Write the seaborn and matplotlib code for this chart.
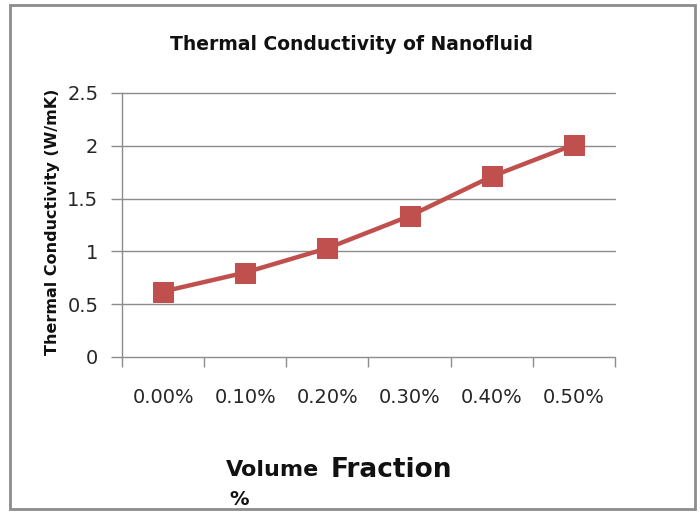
import matplotlib
matplotlib.use("Agg")
import matplotlib.pyplot as plt
import matplotlib.patches as patches
import seaborn as sns
import pandas as pd

# data
fractions = ["0.00%", "0.10%", "0.20%", "0.30%", "0.40%", "0.50%"]
conductivity = [0.62, 0.80, 1.03, 1.335, 1.71, 2.01]
y_ticks = [0, 0.5, 1, 1.5, 2, 2.5]
y_tick_labels = ["0", "0.5", "1", "1.5", "2", "2.5"]

frame = pd.DataFrame({"fraction": fractions, "k": conductivity})

sns.set_style("white")
plt.rcParams["font.family"] = ["DejaVu Sans"]

fig = plt.figure(figsize=(7, 5.13), dpi=100)
ax = fig.add_axes([122 / 700, 1 - 357 / 513, (615 - 122) / 700, (357 - 93) / 513])

for y in y_ticks:
    ax.axhline(y, color="#8c8c8c", linewidth=1, zorder=0, clip_on=False)

sns.lineplot(data=frame, x="fraction", y="k", ax=ax, color="#C0504D",
             linewidth=3.2, marker="s", markersize=15, markeredgecolor="#C0504D",
             zorder=3)

ax.set_xlim(-0.5, 5.5)
ax.set_ylim(0, 2.5)
ax.set_yticks(y_ticks)
ax.set_yticklabels(y_tick_labels, fontsize=14, color="#262626")
ax.set_xticks(range(len(fractions)))
ax.set_xticklabels(fractions, fontsize=14, color="#262626")
ax.set_xticks([i - 0.5 for i in range(len(fractions) + 1)], minor=True)
ax.tick_params(axis="x", which="major", bottom=False, length=0, pad=22)
ax.tick_params(axis="x", which="minor", bottom=True, length=7, color="#8c8c8c", width=1)
ax.tick_params(axis="y", left=True, length=8, color="#8c8c8c", width=1, pad=9)

ax.grid(False)
for side in ["top", "right", "bottom"]:
    ax.spines[side].set_visible(False)
ax.spines["left"].set_color("#8c8c8c")
ax.spines["left"].set_linewidth(1)

ax.set_xlabel("")
ax.set_ylabel("")

fig.text(352 / 700, 1 - 44 / 513, "Thermal Conductivity of Nanofluid", ha="center",
         va="center", fontsize=13.5, fontweight="bold", color="#111111")
fig.text(53 / 700, 1 - 222 / 513, "Thermal Conductivity (W/mK)", ha="center",
         va="center", rotation=90, fontsize=11.5, fontweight="bold", color="#111111")
fig.text(226 / 700, 1 - 476 / 513, "Volume", ha="left", va="baseline",
         fontsize=16, fontweight="bold", color="#111111")
fig.text(331 / 700, 1 - 477 / 513, "Fraction", ha="left", va="baseline",
         fontsize=19, fontweight="bold", color="#111111")
fig.text(229 / 700, 1 - 505 / 513, "%", ha="left", va="baseline",
         fontsize=14, fontweight="bold", color="#111111")

fig.patches.append(patches.Rectangle((10 / 700, 1 - 509 / 513), 685 / 700, 504 / 513,
                                     transform=fig.transFigure, fill=False,
                                     edgecolor="#8c8c8c", linewidth=2))

fig.savefig("out.png", dpi=100)
